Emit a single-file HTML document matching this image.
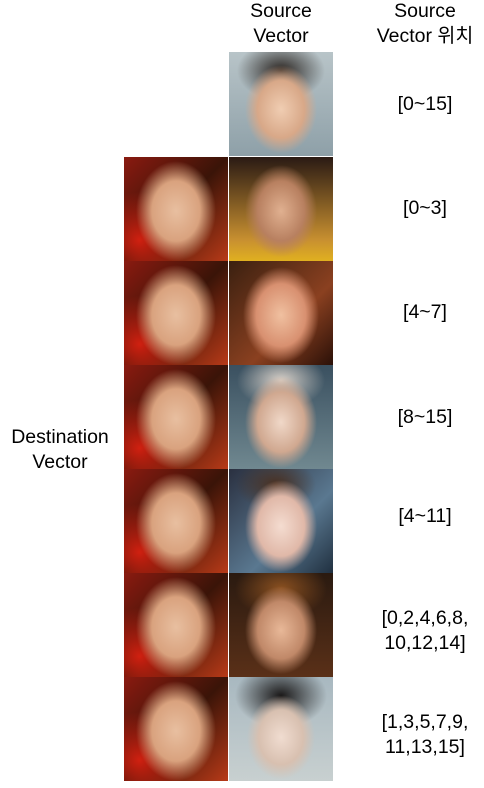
<!DOCTYPE html>
<html><head><meta charset="utf-8"><style>
body{margin:0;width:484px;height:788px;background:#fff;position:relative;overflow:hidden;font-family:"Liberation Sans","Noto Sans CJK KR",sans-serif;color:#000}
.t{position:absolute;font-size:19.5px;text-align:center;line-height:25px}
.img{position:absolute;width:104px;height:104px;overflow:hidden}
.dst{background:radial-gradient(ellipse 40px 50px at 50% 52%,#e8bfa0 0%,#d9a27e 60%,rgba(200,120,80,0) 100%),radial-gradient(circle at 15% 80%,#d02010 0%,rgba(0,0,0,0) 40%),linear-gradient(135deg,#8a1a10,#3a1408 50%,#b83a18)}
.s0{background:radial-gradient(ellipse 36px 44px at 50% 55%,#f0cdb2 0%,#d8a888 65%,rgba(0,0,0,0) 100%),radial-gradient(ellipse 44px 30px at 50% 18%,#2a2420 0%,rgba(0,0,0,0) 100%),linear-gradient(#b8c4c8,#8ea0a8)}
.s1{background:radial-gradient(ellipse 36px 46px at 50% 52%,#e0b090 0%,#b88060 65%,rgba(0,0,0,0) 100%),linear-gradient(#2a1a14,#c89030 80%,#e0b020)}
.s2{background:radial-gradient(ellipse 38px 48px at 50% 52%,#f0c0a0 0%,#d89070 65%,rgba(0,0,0,0) 100%),linear-gradient(135deg,#3a2010,#8a4020 60%,#2a1008)}
.s3{background:radial-gradient(ellipse 36px 46px at 50% 55%,#f0d8c8 0%,#d0a890 65%,rgba(0,0,0,0) 100%),radial-gradient(ellipse 44px 28px at 50% 15%,#d8d0c8 0%,rgba(0,0,0,0) 100%),linear-gradient(#3a5060,#708890)}
.s4{background:radial-gradient(ellipse 36px 46px at 50% 55%,#f4dcd0 0%,#e0b8a8 65%,rgba(0,0,0,0) 100%),radial-gradient(ellipse 40px 26px at 45% 15%,#4a3020 0%,rgba(0,0,0,0) 100%),linear-gradient(135deg,#2a3040,#5a7890 60%,#203040)}
.s5{background:radial-gradient(ellipse 36px 44px at 50% 55%,#e8b898 0%,#c08868 65%,rgba(0,0,0,0) 100%),radial-gradient(ellipse 46px 30px at 50% 15%,#8a5020 0%,rgba(0,0,0,0) 100%),linear-gradient(#2a1a10,#5a3018)}
.s6{background:radial-gradient(ellipse 34px 42px at 50% 58%,#f0dcd0 0%,#d8c0b0 65%,rgba(0,0,0,0) 100%),radial-gradient(ellipse 46px 32px at 50% 18%,#1a1818 0%,rgba(0,0,0,0) 100%),linear-gradient(#a8b8c0,#c8d0d0)}
</style></head><body>
<div class="t" style="left:221px;top:-1px;width:120px">Source<br>Vector</div>
<div class="t" style="left:355px;top:-1px;width:140px">Source<br>Vector 위치</div>
<div class="t" style="left:0;top:425px;width:120px">Destination<br>Vector</div>

<div class="img s0" style="left:229px;top:52px"></div>
<div class="t" style="left:355px;top:92px;width:140px">[0~15]</div>

<div class="img dst" style="left:124px;top:157px"></div>
<div class="img s1" style="left:229px;top:157px"></div>
<div class="t" style="left:355px;top:196px;width:140px">[0~3]</div>

<div class="img dst" style="left:124px;top:261px"></div>
<div class="img s2" style="left:229px;top:261px"></div>
<div class="t" style="left:355px;top:300px;width:140px">[4~7]</div>

<div class="img dst" style="left:124px;top:365px"></div>
<div class="img s3" style="left:229px;top:365px"></div>
<div class="t" style="left:355px;top:405px;width:140px">[8~15]</div>

<div class="img dst" style="left:124px;top:469px"></div>
<div class="img s4" style="left:229px;top:469px"></div>
<div class="t" style="left:355px;top:504px;width:140px">[4~11]</div>

<div class="img dst" style="left:124px;top:573px"></div>
<div class="img s5" style="left:229px;top:573px"></div>
<div class="t" style="left:352px;top:606px;width:146px">[0,2,4,6,8,<br>10,12,14]</div>

<div class="img dst" style="left:124px;top:677px"></div>
<div class="img s6" style="left:229px;top:677px"></div>
<div class="t" style="left:352px;top:710px;width:146px">[1,3,5,7,9,<br>11,13,15]</div>
</body></html>
